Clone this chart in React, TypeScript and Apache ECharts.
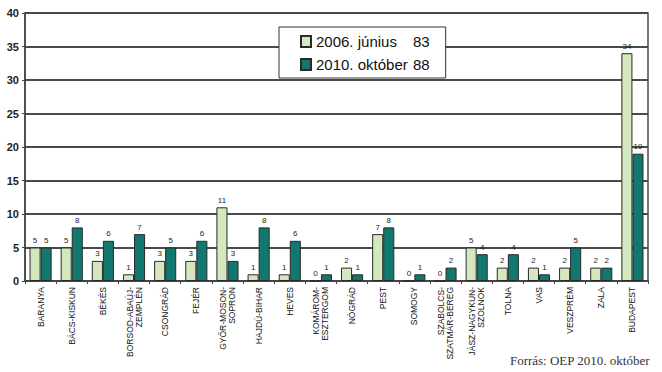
import React, { useEffect, useRef } from "react";
import * as echarts from "echarts";

// Megyék (axis categories)
const counties: string[] = [
  "BARANYA",
  "BÁCS-KISKUN",
  "BÉKÉS",
  "BORSOD-ABAÚJ-\nZEMPLÉN",
  "CSONGRÁD",
  "FEJÉR",
  "GYŐR-MOSON-\nSOPRON",
  "HAJDÚ-BIHAR",
  "HEVES",
  "KOMÁROM-\nESZTERGOM",
  "NÓGRÁD",
  "PEST",
  "SOMOGY",
  "SZABOLCS-\nSZATMÁR-BEREG",
  "JÁSZ-NAGYKUN-\nSZOLNOK",
  "TOLNA",
  "VAS",
  "VESZPRÉM",
  "ZALA",
  "BUDAPEST",
];

const june2006: number[] = [5, 5, 3, 1, 3, 3, 11, 1, 1, 0, 2, 7, 0, 0, 5, 2, 2, 2, 2, 34];
const october2010: number[] = [5, 8, 6, 7, 5, 6, 3, 8, 6, 1, 1, 8, 1, 2, 4, 4, 1, 5, 2, 19];

const seriesNames: string[] = ["2006. június", "2010. október"];
const seriesTotals: number[] = [83, 88];

const yTicks: number[] = [0, 5, 10, 15, 20, 25, 30, 35, 40];

const LIGHT = "#d3e8bf";
const TEAL = "#10786e";
const EDGE = "#2a2a2a";

export default function App() {
  const ref = useRef<HTMLDivElement>(null);

  useEffect(() => {
    if (!ref.current) return;
    const chart = echarts.init(ref.current, undefined, { renderer: "svg" });

    const barLabel = {
      show: true,
      position: "top" as const,
      distance: 3,
      fontSize: 8,
      fontFamily: "Liberation Sans, Arial, sans-serif",
      color: "#222",
    };

    chart.setOption({
      animation: false,
      backgroundColor: "#ffffff",
      textStyle: { fontFamily: "Liberation Sans, Arial, sans-serif" },
      grid: { left: 25, right: 14, top: 13, bottom: 91, show: true, borderColor: "#4a4a4a", borderWidth: 1.5 },
      legend: {
        orient: "vertical",
        left: 279,
        top: 27,
        itemWidth: 10,
        itemHeight: 11,
        itemGap: 8,
        padding: [7, 16, 6, 21],
        backgroundColor: "#ffffff",
        borderColor: "#333",
        borderWidth: 1,
        icon: "rect",
        data: seriesNames,
        formatter: (name: string) => {
          const i = seriesNames.indexOf(name);
          return `{n|${name}}{v|${seriesTotals[i]}}`;
        },
        textStyle: {
          rich: {
            n: { fontSize: 15, color: "#111", width: 97, fontFamily: "Liberation Sans, Arial, sans-serif" },
            v: { fontSize: 15, color: "#111", fontFamily: "Liberation Sans, Arial, sans-serif" },
          },
        },
      },
      xAxis: {
        type: "category",
        data: counties,
        axisLine: { lineStyle: { color: "#444", width: 1.5 } },
        axisTick: { show: true, length: 3, lineStyle: { color: "#444" } },
        axisLabel: {
          interval: 0,
          rotate: 90,
          fontSize: 8.5,
          lineHeight: 9,
          color: "#111",
          margin: 6,
        },
      },
      yAxis: {
        type: "value",
        min: 0,
        max: 40,
        interval: 5,
        axisLine: { show: true, lineStyle: { color: "#444", width: 1.5 } },
        axisTick: { show: true, length: 3, lineStyle: { color: "#444" } },
        axisLabel: {
          fontSize: 11,
          fontWeight: "bold",
          color: "#222",
          margin: 6,
          formatter: (v: number) => (yTicks.includes(v) ? String(v) : ""),
        },
        splitLine: { show: true, lineStyle: { color: "#4a4a4a", width: 1.8 } },
      },
      series: [
        {
          name: seriesNames[0],
          type: "bar",
          data: june2006,
          barGap: "0%",
          barCategoryGap: "29%",
          itemStyle: { color: LIGHT, borderColor: EDGE, borderWidth: 1 },
          label: barLabel,
        },
        {
          name: seriesNames[1],
          type: "bar",
          data: october2010,
          itemStyle: { color: TEAL, borderColor: EDGE, borderWidth: 1 },
          label: barLabel,
        },
      ],
      graphic: [
        {
          type: "text",
          right: 12,
          top: 354,
          style: {
            text: "Forrás: OEP 2010. október",
            fontFamily: "Liberation Serif, Times New Roman, serif",
            fontSize: 13,
            fill: "#333",
          },
        },
      ],
    });

    return () => chart.dispose();
  }, []);

  return <div ref={ref} style={{ width: 662, height: 372, position: "absolute", left: 0, top: 0 }} />;
}
